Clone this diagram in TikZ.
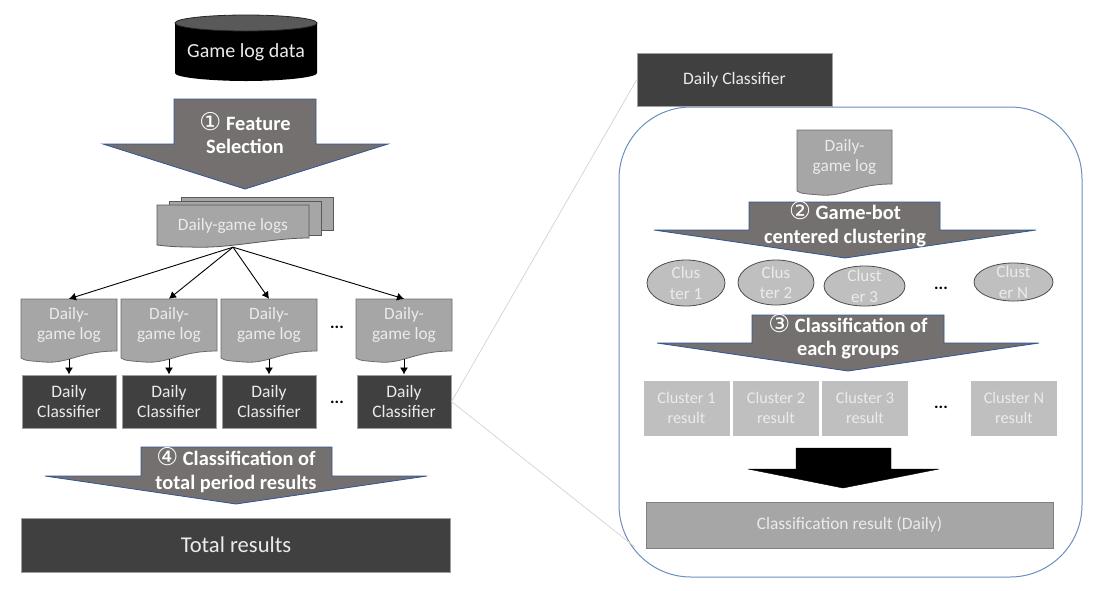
\documentclass[tikz,border=0pt]{standalone}
\usepackage{fontspec}
\setmainfont{Carlito}
\newfontfamily\numfont[Scale=1.2]{DejaVu Sans}
\usetikzlibrary{shapes.geometric, arrows.meta}
\definecolor{stagegray}{HTML}{757070}
\definecolor{stageblue}{HTML}{2F5597}
\definecolor{darkbox}{HTML}{404040}
\definecolor{logfill}{HTML}{A6A6A6}
\definecolor{resfill}{HTML}{BFBFBF}
\definecolor{panelblue}{HTML}{6C8EBF}
\begin{document}
\begin{tikzpicture}[
        x=1pt, y=-1pt,
        stage/.style={draw=stageblue, fill=stagegray, line width=0.8pt, line join=miter},
        stagetext/.style={font=\fontsize{20.4}{23.5}\selectfont\bfseries, text=white, align=center, inner sep=0pt},
        docshape/.style={draw=gray!85!black, fill=logfill, line width=0.8pt},
        doctext/.style={font=\fontsize{17.3}{20.5}\selectfont, text=white!92!black, align=center, inner sep=0pt, minimum width=95pt, minimum height=52pt},
        classifier/.style={draw=gray!75, fill=darkbox, line width=1pt, minimum width=94pt, minimum height=53pt, align=center, inner sep=0pt, text=white!92!black, font=\fontsize{17.5}{20.5}\selectfont},
        cluster/.style={draw=black!70, fill=resfill, line width=0.8pt, ellipse, inner sep=-5pt, align=center, text=white!92!black, font=\fontsize{17}{20.5}\selectfont},
        result/.style={draw=gray!50, fill=resfill, line width=0.8pt, minimum width=85pt, minimum height=54pt, align=center, inner sep=0pt, text=white!92!black, font=\fontsize{16.3}{20.5}\selectfont},
        dots/.style={font=\fontsize{17}{17}\selectfont\bfseries, inner sep=0pt},
        arrow/.style={-{Latex[length=7pt,width=8pt]}, line width=0.9pt},
        zoomline/.style={draw=gray!35, line width=0.7pt}
    ]
        \useasboundingbox (0,0) rectangle (1100,590);

        % Game log data
        \fill[black] (175,23) -- (175,73) .. controls (175,78) and (215,81) .. (246,81) .. controls (277,81) and (317,78) .. (317,73) -- (317,23) -- cycle;
        \draw[fill=black!65, draw=black!85, line width=0.8pt] (246,23) ellipse [x radius=71, y radius=8];
        \node[inner sep=0pt, text=white!92!black, font=\fontsize{20}{24}\selectfont] (gamedata) at (246,52) {Game log data};

        % Feature selection
        \draw[stage] (174,99) -- (316,99) -- (316,144) -- (388,144) -- (245,189) -- (103,144) -- (174,144) -- cycle;
        \node[stagetext] (stage1) at (245,133) {{\numfont\mdseries ①} Feature\\Selection};

        % Stack of logs
        \draw[docshape, draw=black!65] (181,197) rectangle (333,230);
        \draw[docshape, draw=black!65] (169,201) rectangle (321,235);
        \draw[docshape, draw=black!65] (157,205) -- (309,205) -- (309,238) .. controls (270,238) and (230,249) .. (190,247) .. controls (175,247) and (165,246) .. (157,245) -- cycle;
        \node[doctext, minimum width=152pt, minimum height=42pt] (logs) at (233,226) {Daily-game logs};

        % Daily logs and classifiers
        \foreach \x/\n in {69/1,169/2,269/3,404/4} {
            \draw[docshape] (\x-48,299) -- (\x+48,299) -- (\x+48,351) .. controls (\x+10,351) and (\x,364) .. (\x-25,362) .. controls (\x-35,361) and (\x-45,361) .. (\x-48,358) -- cycle;
            \node[doctext] (doc\n) at (\x,325) {Daily-\\game log};
            \node[classifier] (cls\n) at (\x,401.5) {Daily\\Classifier};
            \draw[arrow, shorten <=8pt] (doc\n.south) -- (cls\n.north);
            \draw[arrow] (logs.south) -- (doc\n.north);
        }
        \node[dots] (dotsa) at (337,327.5) {...};
        \node[dots] (dotsb) at (337,402.5) {...};

        % Classification of total period
        \draw[stage] (141,447) -- (332,447) -- (332,476) -- (427,476) -- (236,504) -- (45,476) -- (141,476) -- cycle;
        \node[stagetext] (stage4) at (236,470) {{\numfont\mdseries ④} Classification of\\total period results};

        \node[classifier, minimum width=429pt, minimum height=54pt, font=\fontsize{22.6}{26}\selectfont] (total) at (236,545) {Total results};

        % Panel
        \node[draw=panelblue, fill=white, line width=1pt, rounded corners=72pt, minimum width=463pt, minimum height=470pt] (panel) at (850.5,342) {};
        \node[classifier, minimum width=195pt, minimum height=53pt] (dailytop) at (734.5,80) {Daily Classifier};

        % Zoom lines
        \coordinate (zoomend) at (635,547);
        \draw[zoomline] (cls4.east) -- (dailytop.west);
        \draw[zoomline] (cls4.east) -- (zoomend);

        \draw[docshape] (797,130) -- (892,130) -- (892,184) .. controls (855,184) and (845,197) .. (820,195) .. controls (810,194) and (800,194) .. (797,191) -- cycle;
        \node[doctext, minimum height=54pt] (docp) at (844.5,157) {Daily-\\game log};

        % Game-bot centered clustering
        \draw[stage] (749,202) -- (940,202) -- (940,230) -- (1036,230) -- (845,258) -- (654,230) -- (749,230) -- cycle;
        \node[stagetext] (stage2) at (845,224) {{\numfont\mdseries ②} Game-bot\\centered clustering};

        % Clusters
        \node[cluster, minimum width=78pt, minimum height=46pt] (cl1) at (686,283) {Clus\\ter 1};
        \node[cluster, minimum width=76pt, minimum height=45pt] (cl2) at (776,282.5) {Clus\\ter 2};
        \node[cluster, minimum width=81pt, minimum height=40pt] (cl3) at (864.5,286) {Clust\\er 3};
        \node[cluster, minimum width=79pt, minimum height=38pt] (cln) at (1013.5,282) {Clust\\er N};
        \node[dots] (dotsc) at (941,288) {...};

        % Classification of each groups
        \draw[stage] (752,315) -- (944,315) -- (944,343) -- (1039,343) -- (848,371) -- (657,343) -- (752,343) -- cycle;
        \node[stagetext] (stage3) at (848,336.5) {{\numfont\mdseries ③} Classification of\\each groups};

        % Cluster results
        \node[result] (res1) at (686.5,408) {Cluster 1\\result};
        \node[result] (res2) at (776,408) {Cluster 2\\result};
        \node[result] (res3) at (865,408) {Cluster 3\\result};
        \node[result] (resn) at (1014,408) {Cluster N\\result};
        \node[dots] (dotsd) at (941,407) {...};

        % Merge arrow
        \draw[fill=black, draw=black] (796,448) -- (891,448) -- (891,469) -- (939,469) -- (843,488) -- (748,469) -- (796,469) -- cycle;

        \node[classifier, draw=gray, fill=logfill, minimum width=407pt, minimum height=46pt, font=\fontsize{17.4}{20}\selectfont] (daily) at (849.5,525) {Classification result (Daily)};
    \end{tikzpicture}
\end{document}
